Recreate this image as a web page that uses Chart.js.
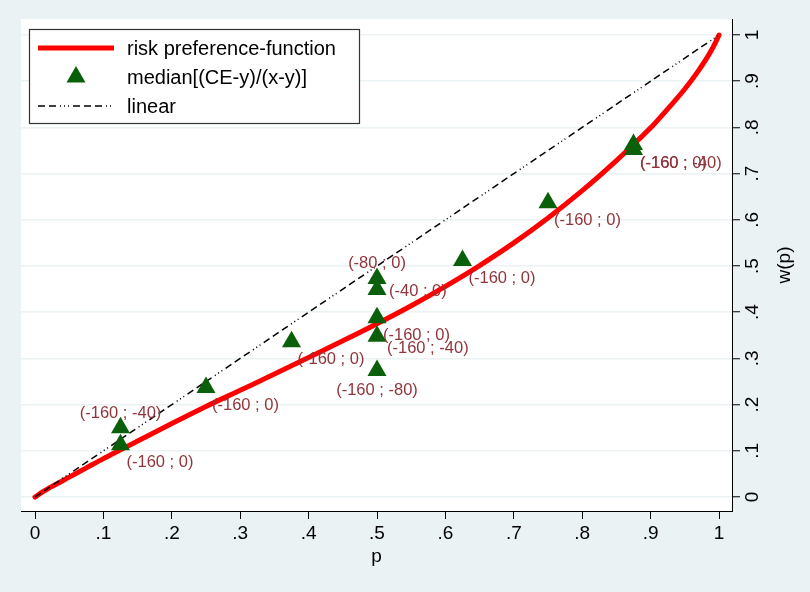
<!DOCTYPE html>
<html>
<head>
<meta charset="utf-8">
<script src="https://cdn.jsdelivr.net/npm/chart.js@4/dist/chart.umd.min.js"></script>
<style>
html,body{margin:0;padding:0;background:#eaf2f3;}
#wrap{width:810px;height:592px;position:relative;}
</style>
</head>
<body>
<div id="wrap"><canvas id="c" width="810" height="592"></canvas></div>
<script>
// ---- data ----
const curveP = [0, 0.01, 0.025, 0.05, 0.075, 0.1, 0.125, 0.15, 0.2, 0.25, 0.3, 0.35, 0.4, 0.45, 0.5, 0.55, 0.6, 0.65, 0.7, 0.75, 0.8, 0.85, 0.875, 0.9, 0.925, 0.95, 0.97, 0.985, 0.995, 1];
const curveW = [0, 0.010, 0.023, 0.043, 0.063, 0.083, 0.102, 0.121, 0.159, 0.196, 0.231, 0.266, 0.302, 0.338, 0.375, 0.414, 0.456, 0.501, 0.550, 0.604, 0.663, 0.728, 0.763, 0.799, 0.840, 0.883, 0.923, 0.957, 0.984, 1];

const pointP = [0.125, 0.125, 0.25, 0.375, 0.5, 0.5, 0.5, 0.5, 0.5, 0.625, 0.75, 0.875, 0.875];
const pointW = [0.150, 0.113, 0.237, 0.336, 0.473, 0.449, 0.388, 0.348, 0.274, 0.512, 0.637, 0.763, 0.752];
const pointLabels = ['(-160 ; -40)', '(-160 ; 0)', '(-160 ; 0)', '(-160 ; 0)', '(-80 ; 0)', '(-40 ; 0)', '(-160 ; 0)', '(-160 ; -40)', '(-160 ; -80)', '(-160 ; 0)', '(-160 ; 0)', '(-160 ; 0)', '(-160 ; -40)'];

const linearP = [0, 1];
const linearW = [0, 1];

const seriesNames = ['risk preference-function', 'median[(CE-y)/(x-y)]', 'linear'];

const xTickValues = [0, 0.1, 0.2, 0.3, 0.4, 0.5, 0.6, 0.7, 0.8, 0.9, 1];
const xTickLabels = ['0', '.1', '.2', '.3', '.4', '.5', '.6', '.7', '.8', '.9', '1'];
const yTickValues = [0, 0.1, 0.2, 0.3, 0.4, 0.5, 0.6, 0.7, 0.8, 0.9, 1];
const yTickLabels = ['0', '.1', '.2', '.3', '.4', '.5', '.6', '.7', '.8', '.9', '1'];
const xTitle = 'p';
const yTitle = 'w(p)';

// ---- marker label placement (style) ----
const labelDX = [0, 6, 6, 6, 0, 12, 6, 10, 0, 6, 6, 6.5, 6.5];
const labelDY = [-14, 18, 18, 18, -15, 2, 18, 12, 20, 18, 18, 18.7, 13.6];
const labelAlign = ['center', 'left', 'left', 'left', 'center', 'left', 'left', 'left', 'center', 'left', 'left', 'left', 'left'];

const FONT = "'Liberation Sans', Arial, Helvetica, sans-serif";
const BG = '#eaf2f3';
const LABEL_COLOR = 'rgb(144,53,59)';
const DASH = [7, 4, 7, 4, 7, 4, 1, 3, 1, 3, 1, 4];

Chart.defaults.font.family = FONT;
Chart.defaults.color = '#000';

const zip = (a, b) => a.map((v, i) => ({x: v, y: b[i]}));

const bgPlugin = {
  id: 'bg',
  beforeDraw(chart) {
    const {ctx, chartArea: a} = chart;
    ctx.save();
    ctx.fillStyle = BG;
    ctx.fillRect(0, 0, chart.width, chart.height);
    ctx.fillStyle = '#fff';
    ctx.fillRect(a.left, a.top, a.right - a.left, a.bottom - a.top);
    ctx.restore();
  }
};

const pointLabelPlugin = {
  id: 'pointLabels',
  afterDatasetsDraw(chart) {
    const ctx = chart.ctx;
    const meta = chart.getDatasetMeta(1);
    ctx.save();
    ctx.font = '16.5px ' + FONT;
    ctx.fillStyle = LABEL_COLOR;
    ctx.textBaseline = 'middle';
    meta.data.forEach((el, i) => {
      ctx.textAlign = labelAlign[i];
      ctx.fillText(pointLabels[i], el.x + labelDX[i], el.y + labelDY[i]);
    });
    ctx.restore();
  }
};

const yTitlePlugin = {
  id: 'yTitle',
  afterDraw(chart) {
    const ctx = chart.ctx;
    const s = chart.scales.y;
    ctx.save();
    ctx.translate(s.right - 25, (s.top + s.bottom) / 2);
    ctx.rotate(-Math.PI / 2);
    ctx.font = '19px ' + FONT;
    ctx.fillStyle = '#000';
    ctx.textAlign = 'center';
    ctx.textBaseline = 'middle';
    ctx.fillText(yTitle, 0, 0);
    ctx.restore();
  }
};

const legendPlugin = {
  id: 'boxLegend',
  afterDraw(chart) {
    const ctx = chart.ctx;
    const a = chart.chartArea;
    const bx = a.left + 8, by = a.top + 10, bw = 331, bh = 95;
    ctx.save();
    ctx.fillStyle = '#fff';
    ctx.fillRect(bx, by, bw, bh);
    ctx.strokeStyle = '#333';
    ctx.lineWidth = 1.2;
    ctx.strokeRect(bx + 0.5, by + 0.5, bw - 1, bh - 1);
    const ds = chart.data.datasets;
    const symL = bx + 9, symR = bx + 85, symC = (symL + symR) / 2;
    const rowY = [by + 19, by + 48, by + 77];
    // red line
    ctx.strokeStyle = ds[0].borderColor;
    ctx.lineWidth = ds[0].borderWidth;
    ctx.beginPath(); ctx.moveTo(symL, rowY[0]); ctx.lineTo(symR, rowY[0]); ctx.stroke();
    // triangle
    const r = ds[1].pointRadius;
    ctx.fillStyle = ds[1].backgroundColor;
    ctx.beginPath();
    ctx.moveTo(symC, rowY[1] - r);
    ctx.lineTo(symC + r * Math.sin(2 * Math.PI / 3), rowY[1] + r / 2);
    ctx.lineTo(symC - r * Math.sin(2 * Math.PI / 3), rowY[1] + r / 2);
    ctx.closePath(); ctx.fill();
    // dashed line
    ctx.strokeStyle = ds[2].borderColor;
    ctx.lineWidth = ds[2].borderWidth;
    ctx.setLineDash(ds[2].borderDash);
    ctx.lineDashOffset = 11;
    ctx.beginPath(); ctx.moveTo(symL, rowY[2]); ctx.lineTo(symR, rowY[2]); ctx.stroke();
    ctx.setLineDash([]);
    // texts
    ctx.font = '20px ' + FONT;
    ctx.fillStyle = '#000';
    ctx.textAlign = 'left';
    ctx.textBaseline = 'middle';
    ds.forEach((d, i) => ctx.fillText(d.label, bx + 98, rowY[i] + 1));
    ctx.restore();
  }
};

new Chart(document.getElementById('c'), {
  type: 'line',
  data: {
    datasets: [
      {
        label: seriesNames[0],
        data: zip(curveP, curveW),
        borderColor: '#ff0000',
        borderWidth: 5,
        borderCapStyle: 'round',
        pointRadius: 0,
        cubicInterpolationMode: 'monotone',
        fill: false,
        order: 2
      },
      {
        type: 'scatter',
        label: seriesNames[1],
        data: zip(pointP, pointW),
        pointStyle: 'triangle',
        pointRadius: 11,
        pointHoverRadius: 11,
        backgroundColor: '#0a600a',
        borderColor: '#0a600a',
        borderWidth: 0,
        order: 0
      },
      {
        label: seriesNames[2],
        data: zip(linearP, linearW),
        borderColor: '#000',
        borderWidth: 1.5,
        borderDash: DASH,
        pointRadius: 0,
        fill: false,
        order: 1
      }
    ]
  },
  options: {
    responsive: false,
    animation: false,
    devicePixelRatio: 1,
    layout: {padding: {left: 21, top: 19, right: 0, bottom: 0}},
    plugins: {legend: {display: false}, tooltip: {enabled: false}},
    scales: {
      x: {
        type: 'linear',
        position: 'bottom',
        min: -0.0205,
        max: 1.019,
        afterBuildTicks: s => { s.ticks = xTickValues.map(v => ({value: v})); },
        afterFit: s => { s.height = 81; },
        ticks: {
          callback: (v, i) => xTickLabels[i],
          font: {size: 19},
          color: '#000',
          padding: 3,
          maxRotation: 0,
          minRotation: 0,
          autoSkip: false
        },
        grid: {drawOnChartArea: false, drawTicks: true, tickLength: 8, tickColor: '#000', tickWidth: 1},
        border: {display: true, color: '#000', width: 1},
        title: {display: true, text: xTitle, font: {size: 19}, color: '#000', padding: {top: 0, bottom: 24}}
      },
      y: {
        type: 'linear',
        position: 'right',
        min: -0.0303,
        max: 1.0346,
        afterBuildTicks: s => { s.ticks = yTickValues.map(v => ({value: v})); },
        afterFit: s => { s.width = 78; },
        ticks: {
          callback: (v, i) => yTickLabels[i],
          font: {size: 19},
          color: '#000',
          padding: 5,
          minRotation: 90,
          maxRotation: 90,
          crossAlign: 'center',
          autoSkip: false
        },
        grid: {drawOnChartArea: true, color: BG, lineWidth: 1.5, drawTicks: true, tickLength: 8, tickColor: '#000', tickWidth: 1},
        border: {display: true, color: '#000', width: 1},
        title: {display: false, text: yTitle}
      }
    }
  },
  plugins: [bgPlugin, pointLabelPlugin, yTitlePlugin, legendPlugin]
});
</script>
</body>
</html>
